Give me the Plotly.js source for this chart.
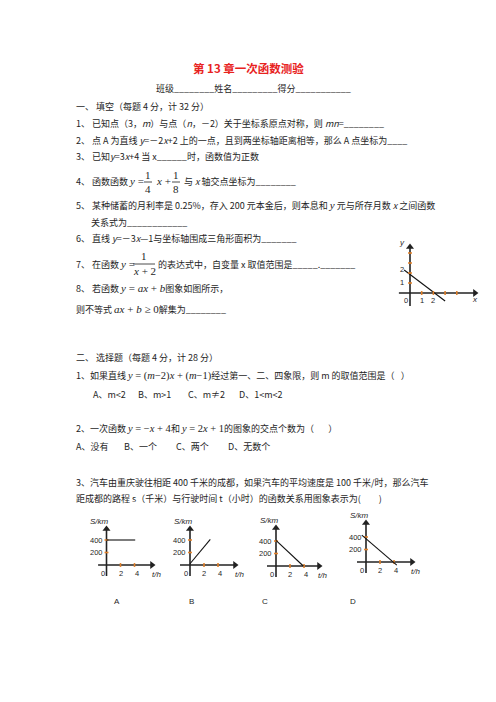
<!DOCTYPE html>
<html><head><meta charset="utf-8">
<script src="https://cdn.plot.ly/plotly-3.0.1.min.js"></script>
<style>html,body{margin:0;padding:0;background:#fff;}#chart{width:496px;height:702px;}</style>
</head><body><div id="chart"></div>
<script>
// ================= DATA =================
// Fill-in question 8: graph of y = ax + b
const q8LineX = [-0.5, 3.0];
const q8LineY = [2.3, -0.8];
const q8TickX = [1, 2, 3, 4];
const q8TickY = [1, 2, 3, 4];
const q8LabelX = [0, 1, 2];
const q8LabelXText = ['0', '1', '2'];
const q8LabelY = [1, 2];
const q8LabelYText = ['1', '2'];

// Choice question 3: distance s (km) vs time t (h), options A-D
const stTickT = [2, 4];
const stTickS = [200, 400];
const stLabelT = [0, 2, 4];
const stLabelTText = ['0', '2', '4'];
const stLabelS = [200, 400];
const stLabelSText = ['200', '400'];
const optionNames = ['A', 'B', 'C', 'D'];
const optA_t = [0, 4.1];  const optA_s = [400, 400];
const optB_t = [0, 2.9];  const optB_s = [20, 410];
const optC_t = [0, 3.9];  const optC_s = [410, 0];
const optD_t = [-0.6, 4.4]; const optD_s = [430, -50];

// ================= LAYOUT HELPERS =================
const W = 496, H = 702;
const px = x => x / W, py = y => 1 - y / H;
const INK = '#1e1e1e', ORANGE = '#e0802a', AXIS = '#222';
const CJK = 'Noto Sans CJK SC';
const M = (s, fs) => `<span style="font-family:Liberation Serif;font-size:${fs || 11}px">${s}</span>`;

const annotations = [], shapes = [], traces = [];
const layout = {
  width: W, height: H, margin: {l: 0, r: 0, t: 0, b: 0},
  paper_bgcolor: '#fff', plot_bgcolor: 'rgba(0,0,0,0)', showlegend: false,
  annotations, shapes
};

function txt(t, x, y, o = {}) {
  annotations.push({
    text: t, xref: 'paper', yref: 'paper', x: px(x), y: py(y),
    xanchor: o.anchor || 'left', yanchor: 'middle', showarrow: false,
    font: {family: o.family || CJK, size: o.size || 9, color: o.color || INK},
    borderpad: 0
  });
}
function bar(x0, x1, y) {
  shapes.push({type: 'line', xref: 'paper', yref: 'paper', x0: px(x0), x1: px(x1),
    y0: py(y), y1: py(y), line: {color: INK, width: 0.8}});
}

// ---- panels (small coordinate systems) ----
// ox,oy: origin pixel; sx,sy: px per unit; box: [left,right,top,bottom] px; ex/ey: axis extents
const panels = [
  {n: '',  ox: 410,   oy: 293, sx: 11.7, sy: 10,     box: [390, 486, 234, 312], ex: [-0.95, 5.55], ey: [-1.3, 4.6]},
  {n: '2', ox: 106.5, oy: 565, sx: 7,    sy: 0.0625, box: [86, 166, 510, 582],  ex: [-1.2, 6.5],   ey: [-176, 576]},
  {n: '3', ox: 190,   oy: 565, sx: 7,    sy: 0.0625, box: [170, 250, 510, 582], ex: [-1.43, 6.43], ey: [-176, 576]},
  {n: '4', ox: 276,   oy: 566, sx: 7,    sy: 0.0625, box: [256, 336, 510, 582], ex: [-1.29, 6.14], ey: [-176, 608]},
  {n: '5', ox: 366,   oy: 562, sx: 7,    sy: 0.0625, box: [346, 426, 508, 580], ex: [-1.29, 6.57], ey: [-176, 624]}
];

panels.forEach(p => {
  const [bx0, bx1, by0, by1] = p.box;
  layout['xaxis' + p.n] = {domain: [px(bx0), px(bx1)],
    range: [(bx0 - p.ox) / p.sx, (bx1 - p.ox) / p.sx], visible: false, fixedrange: true};
  layout['yaxis' + p.n] = {domain: [py(by1), py(by0)],
    range: [(p.oy - by1) / p.sy, (p.oy - by0) / p.sy], visible: false, fixedrange: true};
  const xa = 'x' + p.n, ya = 'y' + p.n;
  const base = {xaxis: xa, yaxis: ya, hoverinfo: 'skip', cliponaxis: false};
  traces.push(Object.assign({x: p.ex, y: [0, 0], mode: 'lines', line: {color: AXIS, width: 1.6}}, base));
  traces.push(Object.assign({x: [0, 0], y: p.ey, mode: 'lines', line: {color: AXIS, width: 1.6}}, base));
  traces.push(Object.assign({x: [p.ex[1]], y: [0], mode: 'markers',
    marker: {symbol: 'triangle-right', size: 7, color: AXIS}}, base));
  traces.push(Object.assign({x: [0], y: [p.ey[1]], mode: 'markers',
    marker: {symbol: 'triangle-up', size: 7, color: AXIS}}, base));
  p.xa = xa; p.ya = ya; p.base = base;
});

function ticks(p, tx, ty) {
  traces.push(Object.assign({x: tx, y: tx.map(() => 0), mode: 'markers',
    marker: {symbol: 'line-ns', size: 2.8, line: {color: ORANGE, width: 1.6}}}, p.base));
  traces.push(Object.assign({x: ty.map(() => 0), y: ty, mode: 'markers',
    marker: {symbol: 'line-ew', size: 2.8, line: {color: ORANGE, width: 1.6}}}, p.base));
}
function dataTxt(p, t, x, y, xs, ys, o = {}) {
  annotations.push({text: t, xref: p.xa, yref: p.ya, x: x, y: y, xshift: xs, yshift: ys,
    xanchor: o.anchor || 'center', yanchor: 'middle', showarrow: false,
    font: {family: o.family || 'Liberation Sans', size: o.size || 7.5, color: INK}});
}
function fline(p, x, y) {
  traces.push(Object.assign({x: x, y: y, mode: 'lines', line: {color: '#111', width: 1.1}}, p.base));
}

// Panel 0: y = ax + b
{
  const p = panels[0];
  fline(p, q8LineX, q8LineY);
  ticks(p, q8TickX, q8TickY);
  q8LabelX.forEach((v, i) => dataTxt(p, q8LabelXText[i], v, 0, v === 0 ? -4 : 0, -7.5));
  q8LabelY.forEach((v, i) => dataTxt(p, q8LabelYText[i], 0, v, -8, v === 2 ? 3 : 0));
  dataTxt(p, '<i>y</i>', 0, p.ey[1], -8, 4, {size: 8});
  dataTxt(p, '<i>x</i>', p.ex[1], 0, 0, -7, {size: 8});
}
// Panels A-D
const optT = [optA_t, optB_t, optC_t, optD_t];
const optS = [optA_s, optB_s, optC_s, optD_s];
optionNames.forEach((nm, k) => {
  const p = panels[k + 1];
  ticks(p, stTickT, stTickS);
  fline(p, optT[k], optS[k]);
  stLabelT.forEach((v, i) => dataTxt(p, stLabelTText[i], v, 0, v === 0 ? -4 : (v === 4 ? 2 : 0), -8));
  stLabelS.forEach((v, i) => dataTxt(p, stLabelSText[i], 0, v, -2, 0, {anchor: 'right'}));
  dataTxt(p, '<i>S/km</i>', 0, p.ey[1], -7, 8, {size: 8});
  dataTxt(p, '<i>t/h</i>', p.ex[1], 0, 4, -9, {size: 8});
});
[117, 191, 265, 353].forEach((x, i) => txt(optionNames[i], x, 601, {anchor: 'center', family: 'Liberation Sans', size: 8}));

// ================= DOCUMENT TEXT =================
txt('<b>第 13 章一次函数测验</b>', 248, 68, {anchor: 'center', size: 11.5, color: '#e8231e'});
txt('班级________姓名_________得分___________', 155, 88);
txt('一、 填空（每题 4 分，计 32 分）', 75, 106);
txt('1、 已知点（3，<i>m</i>）与点（<i>n</i>，－2）关于坐标系原点对称，则 <i>mn</i>=________', 75, 123);
txt('2、 点 A 为直线 <i>y</i>=－2<i>x</i>+2 上的一点，且到两坐标轴距离相等，那么 A 点坐标为____', 75, 140);
txt('3、 已知<i>y</i>=3<i>x</i>+4 当 x______时，函数值为正数', 75, 156);
// line 4 with fractions
txt('4、 函数函数 ' + M('<i>y</i> ='), 75, 181);
txt(M('1'), 148, 175, {anchor: 'center'}); bar(144, 152, 182); txt(M('4'), 148, 189, {anchor: 'center'});
txt(M('<i>x</i> +'), 163, 181, {anchor: 'center'});
txt(M('1'), 176, 175, {anchor: 'center'}); bar(172, 180, 182); txt(M('8'), 176, 189, {anchor: 'center'});
txt('与 <i>x</i> 轴交点坐标为________', 183, 181);
txt('5、 某种储蓄的月利率是 0.25%，存入 200 元本金后，则本息和 ' + M('<i>y</i>') + ' 元与所存月数 <i>x</i> 之间函数', 75, 205);
txt('关系式为____________', 90, 222);
txt('6、 直线 <i>y</i>=－3<i>x</i>—1与坐标轴围成三角形面积为_______', 75, 239);
// line 7 with fraction
txt('7、 在函数 ' + M('<i>y</i> ='), 75, 264);
txt(M('1'), 144, 256, {anchor: 'center'}); bar(133, 155, 264); txt(M('<i>x</i> + 2'), 144, 271, {anchor: 'center'});
txt('的表达式中，自变量 x 取值范围是_____._______', 157, 264);
txt('8、 若函数 ' + M('<i>y</i> = <i>ax</i> + <i>b</i>') + '图象如图所示，', 75, 288);
txt('则不等式 ' + M('<i>ax</i> + <i>b</i> ≥ 0') + '解集为________', 75, 309);

txt('二、 选择题（每题 4 分，计 28 分）', 75, 357);
txt('1、如果直线 ' + M('<i>y</i> = (<i>m</i>−2)<i>x</i> + (<i>m</i>−1)', 10.5) + '经过第一、二、四象限，则 m 的取值范围是（   ）', 75, 375);
txt('A、m<2', 92, 394); txt('B、m>1', 137, 394); txt('C、m≠2', 187, 394); txt('D、1<m<2', 238, 394);
txt('2、一次函数 ' + M('<i>y</i> = −<i>x</i> + 4', 10.5) + '和 ' + M('<i>y</i> = 2<i>x</i> + 1', 10.5) + '的图象的交点个数为（       ）', 75, 428);
txt('A、没有', 75, 447); txt('B、一个', 123, 447); txt('C、两个', 175, 447); txt('D、无数个', 227, 447);
txt('3、汽车由重庆驶往相距 400 千米的成都，如果汽车的平均速度是 100 千米/时，那么汽车', 75, 482);
txt('距成都的路程 s（千米）与行驶时间 t（小时）的函数关系用图象表示为(         )', 75, 498);

Plotly.newPlot('chart', traces, layout, {staticPlot: true, displayModeBar: false});
</script></body></html>
